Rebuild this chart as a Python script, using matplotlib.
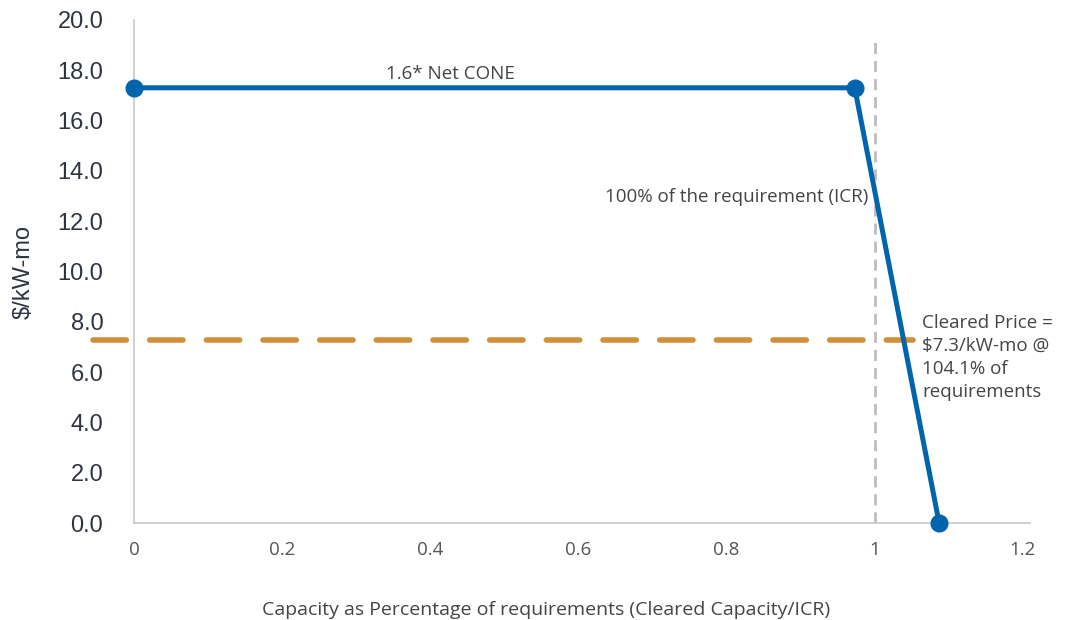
import matplotlib
matplotlib.use("Agg")
import matplotlib.pyplot as plt

# demand curve points (capacity share, $/kW-mo)
curve_x = [0, 0.973, 1.087]
curve_y = [17.3, 17.3, 0]

cleared_price = 7.3
cleared_share = 1.041
icr = 1.0

x_ticks = [0, 0.2, 0.4, 0.6, 0.8, 1, 1.2]
x_tick_labels = ["0", "0.2", "0.4", "0.6", "0.8", "1", "1.2"]
y_ticks = [0, 2, 4, 6, 8, 10, 12, 14, 16, 18, 20]

blue = "#0065AD"
gold = "#D09038"
grey = "#C8C8C8"

fig = plt.figure(figsize=(10.71, 6.2), dpi=100)
ax = fig.add_axes([0.125, 0.156, 0.837, 0.812])

ax.set_xlim(0, 1.21)
ax.set_ylim(0, 20)

# ICR reference line
ax.plot([icr, icr], [0, 19.2], color="#BDBDBD", lw=2, ls=(0, (4, 2.5)), zorder=1)

# cleared price line, runs a little past the left spine
ax.plot([-0.055, cleared_share + 0.011], [cleared_price, cleared_price],
        color=gold, lw=4, ls=(0, (6, 4.2)), solid_capstyle="round",
        dash_capstyle="round", clip_on=False, zorder=2)

ax.plot(curve_x, curve_y, color=blue, lw=3.6, marker="o", markersize=12,
        clip_on=False, zorder=3)

for side in ["top", "right"]:
    ax.spines[side].set_visible(False)
for side in ["left", "bottom"]:
    ax.spines[side].set_color(grey)
    ax.spines[side].set_linewidth(1.2)

ax.set_yticks(y_ticks)
ax.set_yticklabels([f"{v:.1f}" for v in y_ticks], family="Liberation Sans",
                   fontsize=17, color="#2f3540")
ax.set_xticks(x_ticks)
ax.set_xticklabels(x_tick_labels, family="Open Sans", fontsize=13.5, color="#555555")
ax.tick_params(axis="y", length=0, pad=22)
ax.tick_params(axis="x", length=0, pad=13)

ax.set_ylabel("$/kW-mo", family="Liberation Sans", fontsize=17, color="#2f3540",
              labelpad=16)
ax.set_xlabel("Capacity as Percentage of requirements (Cleared Capacity/ICR)",
              family="Open Sans", fontsize=14, color="#444444")
ax.xaxis.set_label_coords(0.46, -0.155)

ax.text(0.427, 17.85, "1.6* Net CONE", family="Open Sans", fontsize=13.5,
        color="#444444", ha="center", va="center")
ax.text(0.992, 12.95, "100% of the requirement (ICR)", family="Open Sans",
        fontsize=13.5, color="#444444", ha="right", va="center")
ax.text(1.064, 8.3,
        "Cleared Price =\n$7.3/kW-mo @\n104.1% of\nrequirements",
        family="Open Sans", fontsize=13.5, color="#444444", ha="left", va="top",
        linespacing=1.35)

fig.savefig("out.png", dpi=100)
